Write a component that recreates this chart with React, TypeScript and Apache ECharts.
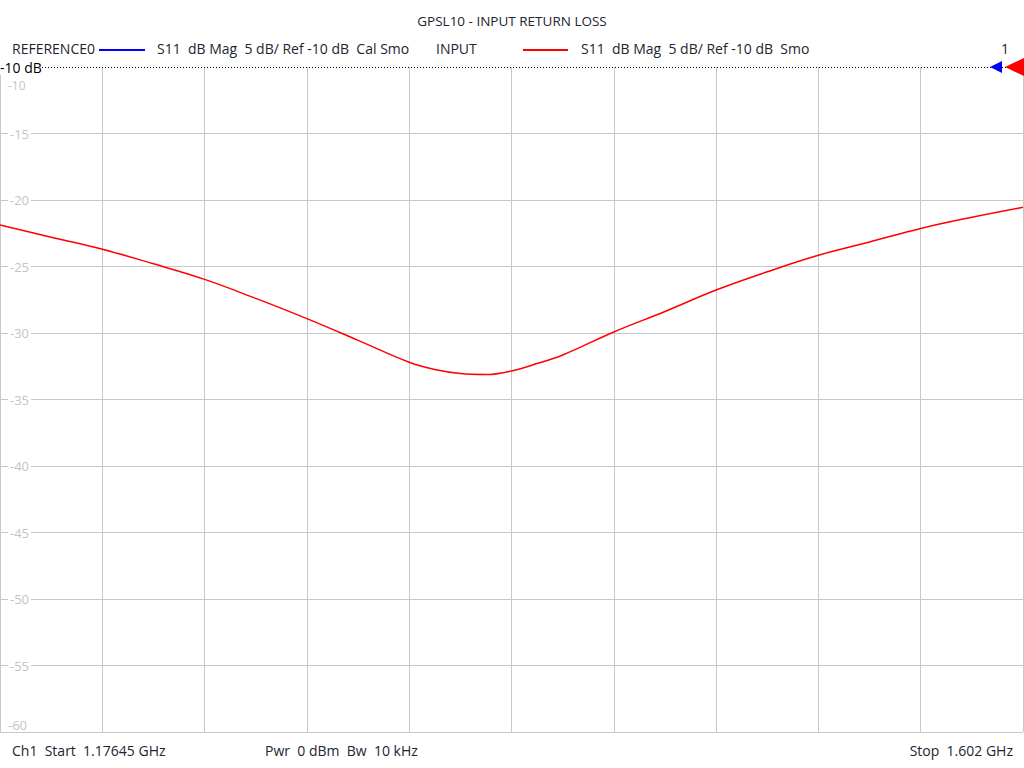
import React, { useEffect, useRef } from "react";
import * as echarts from "echarts";

const titleText = "GPSL10 - INPUT RETURN LOSS";
const frequenciesGHz = [
  1.17645, 1.19773, 1.21901, 1.24028, 1.26156, 1.28284, 1.30412, 1.3254,
  1.34667, 1.35731, 1.36795, 1.37859, 1.38923, 1.39987, 1.41051, 1.43179,
  1.45306, 1.47434, 1.49562, 1.5169, 1.53818, 1.55945, 1.58073, 1.602,
];
const inputS11dB = [
  -21.88, -22.8, -23.7, -24.8, -25.97, -27.4, -28.92, -30.55,
  -32.2, -32.75, -33.05, -33.12, -32.85, -32.3, -31.65, -29.92,
  -28.38, -26.77, -25.4, -24.16, -23.16, -22.14, -21.3, -20.55,
];
const yTicks = [-60, -55, -50, -45, -40, -35, -30, -25, -20, -15, -10];
const startGHz = 1.17645;
const stopGHz = 1.602;
const refLevel = -10;

const FONT = "'Open Sans', 'Noto Sans', sans-serif";
const TXT = "#1c2530";

export default function App() {
  const ref = useRef<HTMLDivElement>(null);
  useEffect(() => {
    document.body.style.margin = "0";
    const chart = echarts.init(ref.current!, null, { renderer: "svg" });
    const data = frequenciesGHz.map((f, i) => [f, inputS11dB[i]]);
    const splitColors = yTicks.map((v) => (v === refLevel ? "rgba(0,0,0,0)" : "#c8c8c8"));
    chart.setOption({
      animation: false,
      backgroundColor: "#ffffff",
      textStyle: { fontFamily: FONT },
      grid: { left: 0, right: 1, top: 67, bottom: 36, containLabel: false },
      xAxis: [
        { type: "value", min: startGHz, max: stopGHz, show: false },
        {
          type: "value",
          min: 0,
          max: 10,
          interval: 1,
          axisLine: { show: false },
          axisTick: { show: false },
          axisLabel: { show: false },
          splitLine: { show: true, lineStyle: { color: "#c8c8c8", width: 1 } },
        },
      ],
      yAxis: {
        type: "value",
        min: -60,
        max: -10,
        interval: 5,
        axisLine: { show: false },
        axisTick: { show: false },
        axisLabel: {
          inside: true,
          margin: 8,
          color: "#c4c4c4",
          fontSize: 13,
          fontFamily: FONT,
          backgroundColor: "#ffffff",
          padding: [0, 2, 0, 2],
          showMinLabel: false,
          showMaxLabel: false,
        },
        splitLine: { show: true, lineStyle: { color: splitColors, width: 1 } },
      },
      series: [
        {
          type: "line",
          xAxisIndex: 0,
          data,
          smooth: 0.4,
          showSymbol: false,
          symbol: "none",
          lineStyle: { color: "#ff0000", width: 1.5 },
          markLine: {
            silent: true,
            symbol: "none",
            label: { show: false },
            lineStyle: { color: "#000000", type: [1, 2], width: 1 },
            data: [{ yAxis: refLevel }],
          },
          z: 3,
        },
      ],
      graphic: [
        { type: "text", left: "center", top: 14, style: { text: titleText, fill: TXT, font: `13.5px ${FONT}` } },
        { type: "text", x: 12, y: 41, style: { text: "REFERENCE0", fill: TXT, font: `14px ${FONT}` } },
        { type: "line", shape: { x1: 99, y1: 50, x2: 145, y2: 50 }, style: { stroke: "#0000ff", lineWidth: 2 } },
        { type: "text", x: 157, y: 41, style: { text: "S11  dB Mag  5 dB/ Ref -10 dB  Cal Smo", fill: TXT, font: `14px ${FONT}` } },
        { type: "text", x: 436, y: 41, style: { text: "INPUT", fill: TXT, font: `14px ${FONT}` } },
        { type: "line", shape: { x1: 523, y1: 50, x2: 568, y2: 50 }, style: { stroke: "#ff0000", lineWidth: 2 } },
        { type: "text", x: 581, y: 41, style: { text: "S11  dB Mag  5 dB/ Ref -10 dB  Smo", fill: TXT, font: `14px ${FONT}` } },
        { type: "text", x: 1001, y: 41, style: { text: "1", fill: TXT, font: `14px ${FONT}` } },
        { type: "text", x: 8, y: 79, z: 1, style: { text: "-10", fill: "#c4c4c4", font: `12px ${FONT}` } },
        { type: "text", x: 8, y: 718, style: { text: "-60", fill: "#c4c4c4", font: `13px ${FONT}` } },
        {
          type: "text", x: 0, y: 60, z: 10,
          style: { text: "-10 dB", fill: "#000000", font: `14px ${FONT}`, lineHeight: 15, backgroundColor: "#ffffff" },
        },
        { type: "polygon", z: 10, shape: { points: [[990, 67], [1002, 61], [1002, 73]] }, style: { fill: "#0000ff" } },
        { type: "polygon", z: 10, shape: { points: [[1005, 67], [1024, 58], [1024, 76]] }, style: { fill: "#ff0000" } },
        { type: "text", x: 12, y: 743, style: { text: "Ch1  Start  1.17645 GHz", fill: TXT, font: `14px ${FONT}` } },
        { type: "text", x: 265, y: 743, style: { text: "Pwr  0 dBm  Bw  10 kHz", fill: TXT, font: `14px ${FONT}` } },
        { type: "text", right: 11, top: 743, style: { text: "Stop  1.602 GHz", fill: TXT, font: `14px ${FONT}` } },
      ],
    });
    return () => chart.dispose();
  }, []);
  return <div ref={ref} style={{ width: 1024, height: 768 }} />;
}
